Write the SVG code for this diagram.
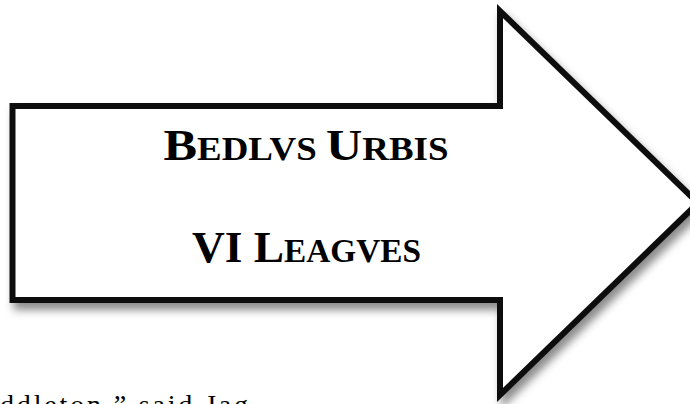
<svg xmlns="http://www.w3.org/2000/svg" width="690" height="404" viewBox="0 0 690 404">
  <defs>
    <filter id="shadow" x="-10%" y="-10%" width="130%" height="130%">
      <feDropShadow dx="4" dy="7" stdDeviation="4" flood-color="#000" flood-opacity="0.45"/>
    </filter>
  </defs>
  <style>
    .sign { fill: #fff; stroke: #111; stroke-width: 6; stroke-linejoin: miter; }
    .title { font-family: "Liberation Serif", "Times New Roman", serif; font-weight: bold; fill: #000; text-anchor: middle; }
    .big { font-size: 45px; }
    .sc { font-size: 33px; }
    .body { font-family: "Liberation Serif", "Times New Roman", serif; font-size: 28px; fill: #000; }
  </style>
  <rect width="690" height="404" fill="#fff"/>
  <g id="arrow-sign">
    <polygon class="sign" filter="url(#shadow)" points="12.5,106 500,106 500,11 698,203 500,395 500,300 12.5,300"/>
  </g>
  <g id="label">
    <text class="title" x="306" y="160" textLength="285" lengthAdjust="spacingAndGlyphs"><tspan class="big">B</tspan><tspan class="sc">EDLVS </tspan><tspan class="big">U</tspan><tspan class="sc">RBIS</tspan></text>
    <text class="title" x="306.5" y="262" textLength="229" lengthAdjust="spacingAndGlyphs"><tspan class="big">VI L</tspan><tspan class="sc">EAGVES</tspan></text>
  </g>
  <g id="connectors"/>
  <text class="body" x="0" y="414" textLength="248" lengthAdjust="spacing">ddleton,” said Jag</text>
</svg>
